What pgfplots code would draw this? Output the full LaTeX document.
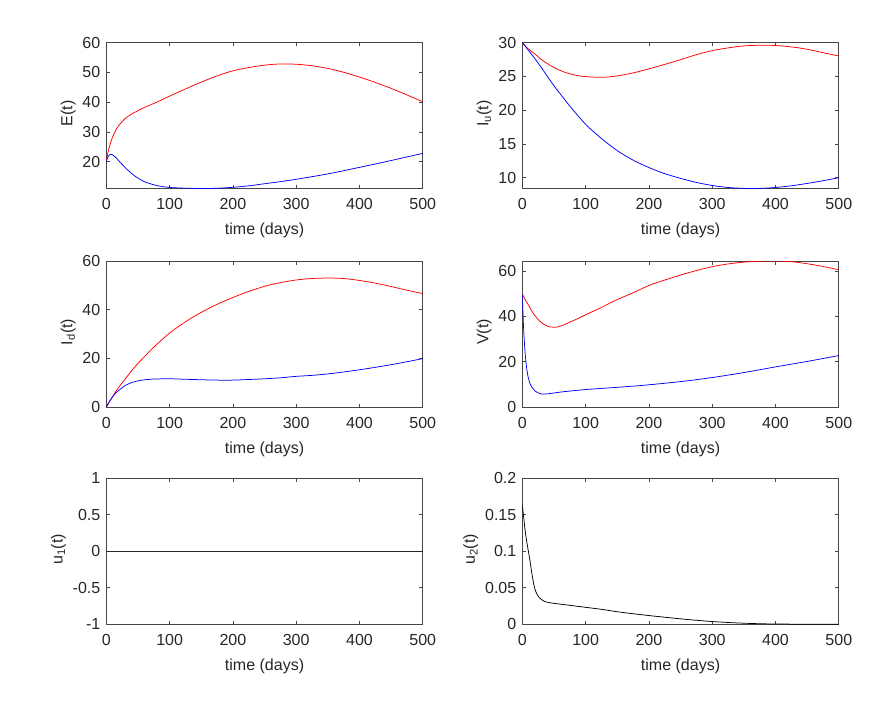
\documentclass[border=0pt]{standalone}
\usepackage{fontspec}
\setmainfont{Liberation Sans}
\usepackage{pgfplots}
\pgfplotsset{compat=1.18}
\definecolor{axgray}{RGB}{70,70,70}
\definecolor{txtgray}{RGB}{38,38,38}
\pgfplotsset{
  myax/.style={
    width=316.5pt, height=146pt, scale only axis,
    anchor=north west,
    xmin=0, xmax=500, xtick={0,100,200,300,400,500},
    axis line style={axgray, line width=0.7pt},
    every tick/.style={axgray, line width=0.7pt},
    major tick length=3.5pt,
    tick align=inside,
    /pgf/number format/assume math mode=true,
    tick label style={font=\fontsize{16}{19}\selectfont, text=txtgray},
    xticklabel style={yshift=-6.5pt},
    yticklabel style={xshift=-2.5pt},
    xlabel={time (days)},
    every axis x label/.style={at={(axis description cs:0.5,0)}, anchor=center, yshift=-42pt, font=\fontsize{16}{19}\selectfont, text=txtgray},
    every axis y label/.style={at={(ticklabel cs:0.5)}, anchor=south, rotate=90, xshift=2pt, font=\fontsize{16}{19}\selectfont, text=txtgray},
    clip=true,
  },
  redl/.style={red, line width=0.75pt, smooth, no marks},
  bluel/.style={blue, line width=0.75pt, smooth, no marks},
}
\begin{document}
\begin{tikzpicture}
\path[use as bounding box] (0pt,0pt) rectangle (894pt,-709pt);

% ---------- E(t)
\begin{axis}[myax, at={(106.3pt,-42.5pt)}, ymin=11.0, ymax=60, ytick={20,30,40,50,60}, ylabel={E(t)}]
\addplot[redl] coordinates {(0,20) (2,22.5) (5,25.1) (10,28.3) (15,30.6) (20,32.2) (30,34.5) (40,36.0) (50,37.1) (60,38.2) (80,40.0) (100,42.0) (125,44.4) (150,46.7) (175,48.8) (200,50.5) (225,51.6) (250,52.4) (275,52.8) (300,52.7) (325,52.2) (350,51.3) (375,50.0) (400,48.4) (425,46.6) (450,44.6) (475,42.4) (500,40.1)};
\addplot[bluel] coordinates {(0,20) (3,21.8) (6,22.4) (9,22.4) (12,22.0) (16,21.2) (21,20.0) (30,18.0) (37,16.6) (45,15.2) (53,14.1) (60,13.3) (68,12.7) (76,12.2) (84,11.8) (100,11.35) (125,11.1) (150,11.02) (175,11.08) (200,11.4) (225,11.9) (250,12.6) (275,13.3) (300,14.1) (350,15.9) (400,18.1) (450,20.4) (500,22.8)};
\end{axis}

% ---------- Iu(t)
\begin{axis}[myax, at={(522.3pt,-42.5pt)}, ymin=8.4, ymax=30, ytick={10,15,20,25,30}, ylabel={I\textsubscript{u}(t)}]
\addplot[redl] coordinates {(0,30) (10,29.0) (20,28.3) (30,27.5) (41,26.8) (50,26.3) (67,25.6) (85,25.15) (100,24.95) (125,24.85) (146,25.0) (175,25.5) (200,26.1) (241,27.2) (275,28.2) (300,28.8) (325,29.2) (350,29.5) (380,29.6) (400,29.55) (425,29.35) (450,29.0) (475,28.5) (500,28.0)};
\addplot[bluel] coordinates {(0,30) (10,28.8) (20,27.6) (30,26.3) (41,24.8) (50,23.6) (60,22.4) (75,20.6) (100,17.9) (125,15.8) (150,14.0) (175,12.6) (200,11.5) (225,10.6) (250,9.9) (275,9.3) (300,8.85) (325,8.55) (350,8.42) (375,8.42) (400,8.55) (425,8.8) (450,9.15) (475,9.55) (500,10.0)};
\end{axis}

% ---------- Id(t)
\begin{axis}[myax, at={(106.3pt,-261pt)}, ymin=0, ymax=60, ytick={0,20,40,60}, ylabel={I\textsubscript{d}(t)}]
\addplot[redl] coordinates {(0,0) (5,2.2) (10,4.3) (15,6.4) (21,8.5) (30,11.6) (42,15.5) (50,17.9) (60,20.6) (68,22.8) (80,25.8) (100,30.4) (125,35.0) (150,38.9) (175,42.2) (200,45.0) (225,47.5) (250,49.6) (275,51.1) (300,52.2) (325,52.8) (350,53.0) (375,52.8) (400,52.0) (425,50.9) (450,49.5) (475,48.0) (500,46.6)};
\addplot[bluel] coordinates {(0,0) (3,1.4) (6,2.7) (10,4.2) (15,5.8) (21,7.1) (31,9.0) (42,10.2) (53,10.9) (65,11.3) (75,11.5) (100,11.6) (125,11.4) (150,11.2) (175,11.05) (200,11.05) (225,11.3) (250,11.6) (275,12.0) (300,12.6) (325,13.0) (350,13.6) (375,14.4) (400,15.3) (425,16.3) (450,17.4) (475,18.6) (500,19.9)};
\end{axis}

% ---------- V(t)
\begin{axis}[myax, at={(522.3pt,-261pt)}, ymin=0, ymax=64.4, ytick={0,20,40,60}, ylabel={V(t)}]
\addplot[redl] coordinates {(0,50) (3,48.2) (6,46.6) (9.5,45.1) (15,42.3) (20,40.3) (25,38.6) (30.5,37.2) (37,36.0) (44,35.3) (50,35.2) (57,35.4) (67,36.4) (78,37.8) (90,39.3) (100,40.7) (125,43.9) (146,46.9) (175,50.4) (200,53.6) (225,56.0) (250,58.2) (275,60.2) (300,61.9) (325,63.1) (350,63.9) (375,64.3) (400,64.4) (425,64.1) (450,63.2) (475,62.0) (500,60.5)};
\addplot[bluel] coordinates {(0,50) (1,42) (2,35) (3,30) (4,25.5) (5,22) (7,17) (9,13.5) (12,10.5) (16,8.4) (20,7.1) (25,6.2) (30,5.75) (35,5.7) (41,5.85) (50,6.2) (67,6.8) (85,7.3) (100,7.7) (125,8.2) (146,8.6) (175,9.2) (200,9.8) (250,11.2) (300,13.0) (350,15.2) (400,17.7) (450,20.1) (500,22.7)};
\end{axis}

% ---------- u1(t)
\begin{axis}[myax, at={(106.3pt,-478.3pt)}, ymin=-1, ymax=1, ytick={-1,-0.5,0,0.5,1}, yticklabels={-1,-0.5,0,0.5,1}, ylabel={u\textsubscript{1}(t)}]
\addplot[black!85, line width=1pt, no marks] coordinates {(0,0) (500,0)};
\end{axis}

% ---------- u2(t)
\begin{axis}[myax, at={(522.3pt,-478.3pt)}, ymin=0, ymax=0.2, ytick={0,0.05,0.1,0.15,0.2}, yticklabels={0,0.05,0.1,0.15,0.2}, ylabel={u\textsubscript{2}(t)}]
\addplot[black, line width=0.75pt, smooth, no marks] coordinates {(0,0.164) (2,0.148) (4,0.132) (6,0.119) (8,0.108) (10,0.098) (12.5,0.085) (15,0.07) (17.5,0.058) (20,0.048) (24,0.040) (28,0.0355) (32,0.033) (36,0.031) (44,0.0295) (52,0.0285) (75,0.026) (100,0.0233) (125,0.0205) (150,0.0172) (175,0.0145) (200,0.0120) (225,0.0097) (250,0.0075) (275,0.0055) (300,0.0038) (325,0.0025) (350,0.0015) (375,0.0008) (400,0.0004) (450,0.0001) (500,0)};
\end{axis}
\end{tikzpicture}
\end{document}
